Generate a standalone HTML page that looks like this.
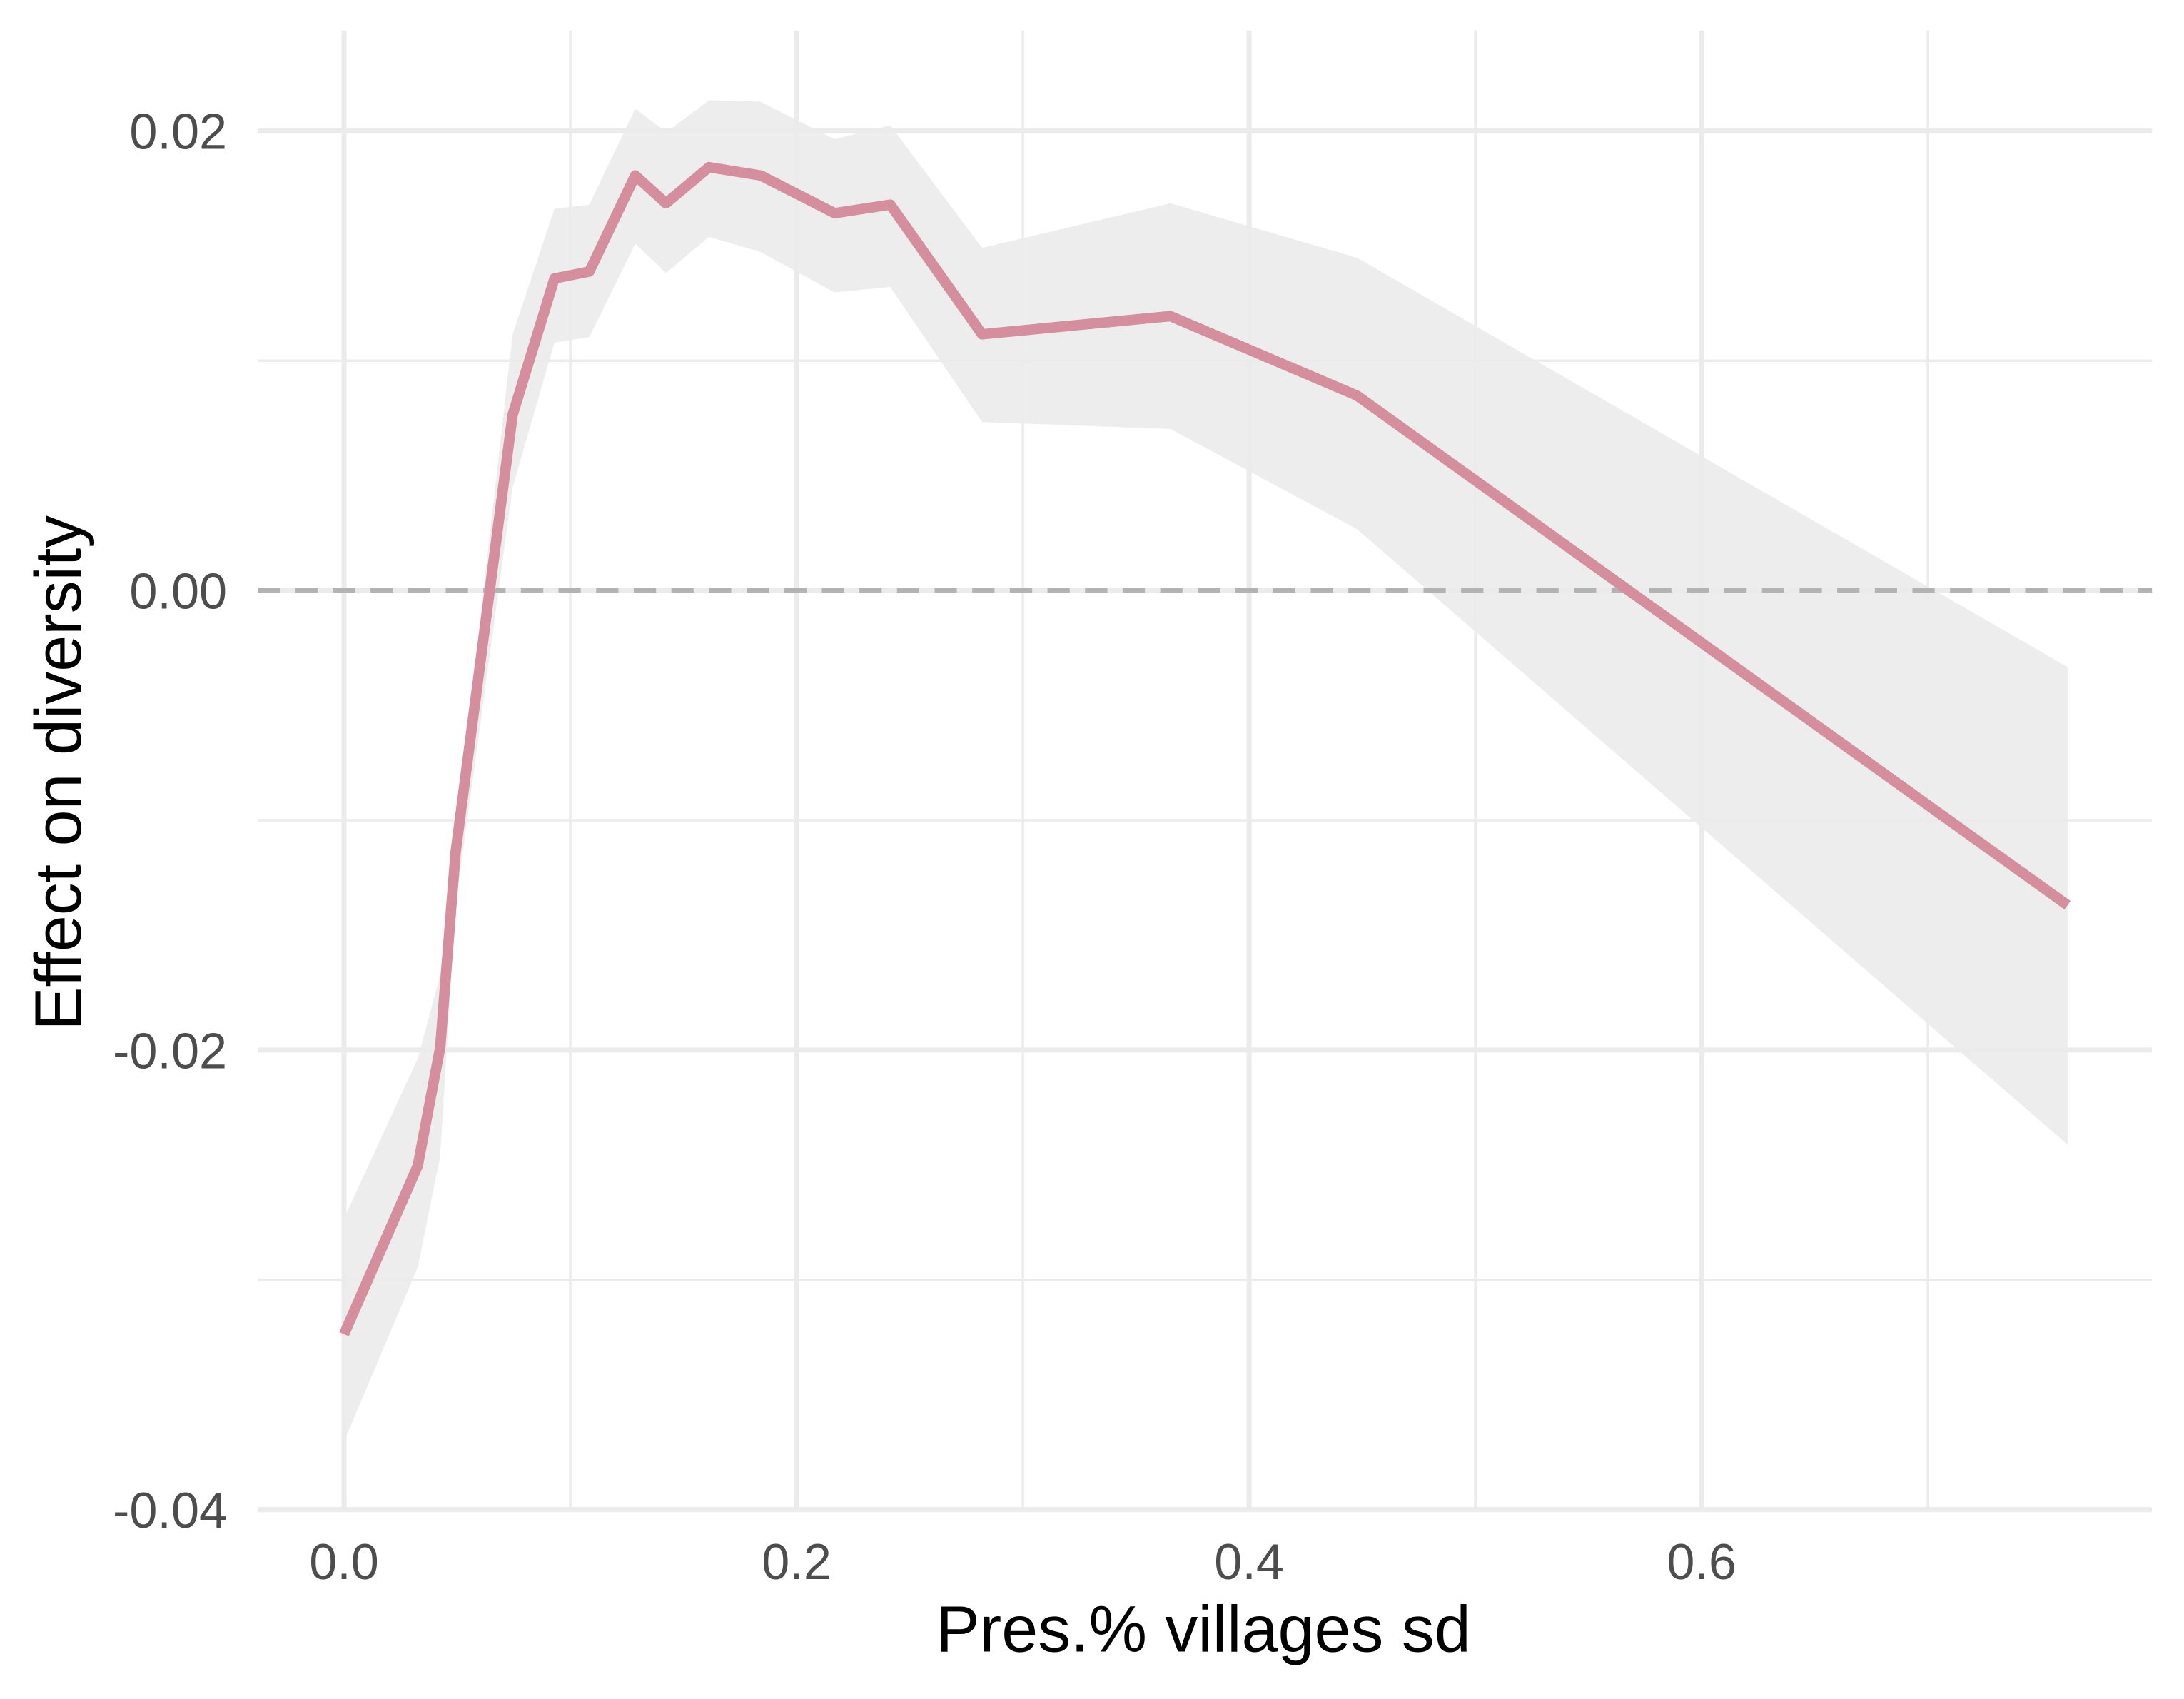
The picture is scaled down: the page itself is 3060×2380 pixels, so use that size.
<!DOCTYPE html>
<html><head><meta charset="utf-8"><style>
html,body{margin:0;padding:0;background:#fff;}
svg{display:block;}
</style></head><body>
<svg id="chart" width="3060" height="2380" viewBox="0 0 1568 1220" preserveAspectRatio="none" xmlns="http://www.w3.org/2000/svg" font-family="Liberation Sans, sans-serif">
<rect width="1568" height="1220" fill="#fff"/>
<g id="grid"></g>
<path id="band" fill="#ebebeb" fill-opacity="0.9"/>
<line id="zero" stroke="#b3b3b3" stroke-width="3.2" stroke-dasharray="16,11"/>
<path id="line" fill="none" stroke="#d48e9d" stroke-width="7.5" stroke-linejoin="round"/>
<g id="ticks"></g>
<text x="864" y="1186" font-size="47" text-anchor="middle" fill="#000">Pres.% villages sd</text>
<text transform="translate(58,555) rotate(-90)" font-size="47" text-anchor="middle" fill="#000">Effect on diversity</text>
</svg>
<script>
const xs=[0,0.0326,0.0425,0.0493,0.0745,0.0930,0.1084,0.1287,0.1423,0.1613,0.1841,0.2168,0.2414,0.2820,0.3652,0.4477,0.7617];
const est=[-0.03236,-0.02503,-0.01988,-0.01139,0.00764,0.01358,0.01388,0.01806,0.01685,0.01842,0.01806,0.01642,0.01679,0.01115,0.01194,0.00848,-0.01370];
const upper=[-0.02733,-0.02036,-0.01673,-0.01067,0.01115,0.01661,0.01679,0.02097,0.01994,0.02133,0.02127,0.01964,0.02024,0.01491,0.01685,0.01448,-0.00333];
const lower=[-0.03703,-0.02945,-0.02461,-0.01370,0.00448,0.01079,0.01103,0.01509,0.01382,0.01539,0.01473,0.01297,0.01321,0.00733,0.00703,0.00267,-0.02412];
const xTicks=[0,0.2,0.4,0.6];
const xTickLabels=["0.0","0.2","0.4","0.6"];
const yTicks=[0.02,0,-0.02,-0.04];
const yTickLabels=["0.02","0.00","-0.02","-0.04"];
const xMinor=[0.1,0.3,0.5,0.7];
const yMinor=[0.01,-0.01,-0.03];

const X=v=>247+v*1624.5;
const Y=v=>424-v*16500;
const L=185,R=1545,T=22,B=1084;
const ns="http://www.w3.org/2000/svg";
const grid=document.getElementById('grid');
function ln(x1,y1,x2,y2,w,name){
  const l=document.createElementNS(ns,'line');
  l.setAttribute('x1',x1);l.setAttribute('y1',y1);l.setAttribute('x2',x2);l.setAttribute('y2',y2);
  l.setAttribute('stroke','#ebebeb');l.setAttribute('stroke-width',w);
  
  
  grid.appendChild(l);
}
xMinor.forEach(v=>ln(X(v),T,X(v),B,1.8,'x-minor-gridline'));
yMinor.forEach(v=>ln(L,Y(v),R,Y(v),1.8,'y-minor-gridline'));
xTicks.forEach(v=>ln(X(v),T,X(v),B,3.6,'x-major-gridline'));
yTicks.forEach(v=>ln(L,Y(v),R,Y(v),3.6,'y-major-gridline'));
const z=document.getElementById('zero');
z.setAttribute('x1',L);z.setAttribute('x2',R);z.setAttribute('y1',Y(0));z.setAttribute('y2',Y(0));
let d='';
xs.forEach((x,i)=>{d+=(i?'L':'M')+X(x)+','+Y(upper[i]);});
for(let i=xs.length-1;i>=0;i--)d+='L'+X(xs[i])+','+Y(lower[i]);
document.getElementById('band').setAttribute('d',d+'Z');
let d2='';
xs.forEach((x,i)=>{d2+=(i?'L':'M')+X(x)+','+Y(est[i]);});
document.getElementById('line').setAttribute('d',d2);
const tk=document.getElementById('ticks');
function tx(x,y,s,anchor,name){
  const t=document.createElementNS(ns,'text');
  t.setAttribute('x',x);t.setAttribute('y',y);t.setAttribute('font-size','36');
  t.setAttribute('fill','#4d4d4d');t.setAttribute('text-anchor',anchor);
  
  
  t.textContent=s;tk.appendChild(t);
}
xTicks.forEach((v,i)=>tx(X(v),1134,xTickLabels[i],'middle','x-tick-label'));
yTicks.forEach((v,i)=>tx(163,Y(v)+13,yTickLabels[i],'end','y-tick-label'));
</script>
</body></html>
